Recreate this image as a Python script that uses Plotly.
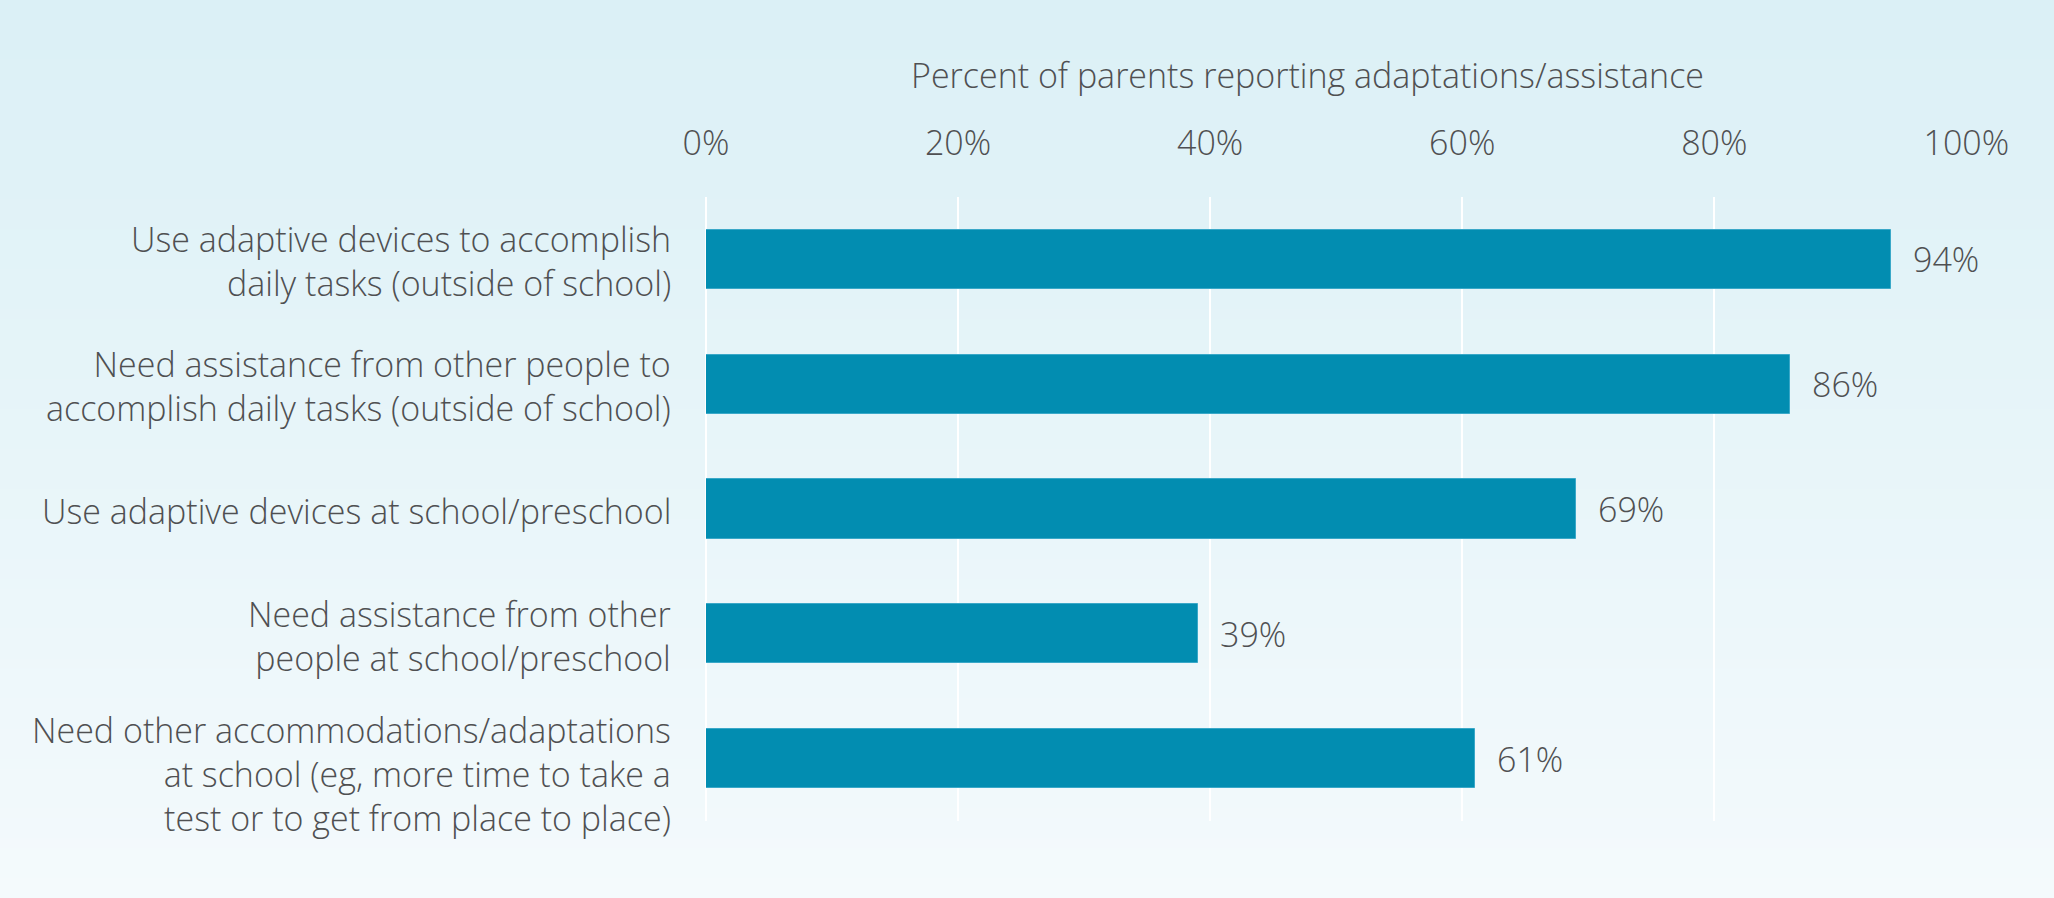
import plotly.graph_objects as go

# Survey items (top to bottom) and the share of parents reporting each
categories = [
    "Use adaptive devices to accomplish<br>daily tasks (outside of school)",
    "Need assistance from other people to<br>accomplish daily tasks (outside of school)",
    "Use adaptive devices at school/preschool",
    "Need assistance from other<br>people at school/preschool",
    "Need other accommodations/adaptations<br>at school (eg, more time to take a<br>test or to get from place to place)",
]
percent = [94, 86, 69, 39, 61]
x_ticks = [0, 20, 40, 60, 80, 100]
x_tick_labels = ["0%", "20%", "40%", "60%", "80%", "100%"]
axis_title = "Percent of parents reporting adaptations/assistance"

W, H = 2054, 898
ML, MR, MT, MB = 706, 87, 197, 77
PW, PH = W - ML - MR, H - MT - MB

FONT = "Open Sans, Liberation Sans, Arial, sans-serif"
FS = 34
TEXT = "#4f5052"
BAR = "#028db1"

fig = go.Figure()
fig.add_trace(go.Bar(
    x=percent,
    y=categories,
    orientation="h",
    width=0.474,
    marker=dict(color=BAR, line=dict(color="#3aa8c8", width=1)),
    hoverinfo="skip",
))

annotations = []
for cat, v in zip(categories, percent):
    # value label just beyond the bar end
    annotations.append(dict(
        x=v, y=cat, xref="x", yref="y", text=f"{v}%",
        showarrow=False, xanchor="left", yanchor="middle", xshift=20,
        font=dict(family=FONT, size=FS, color=TEXT, weight=300),
    ))
    # right-aligned category label left of the axis; the three-line
    # label sits a little lower than its bar's centre
    n_lines = cat.count("<br>") + 1
    annotations.append(dict(
        x=0, y=cat, xref="paper", yref="y", text=cat, align="right",
        showarrow=False, xanchor="right", yanchor="middle", xshift=-33,
        yshift=-15 if n_lines > 2 else -2,
        font=dict(family=FONT, size=FS, color=TEXT, weight=300),
    ))

annotations.append(dict(
    x=(1307 - ML) / PW, y=1 + (MT - 75) / PH, xref="paper", yref="paper",
    text=axis_title, showarrow=False, xanchor="center", yanchor="middle",
    font=dict(family=FONT, size=FS, color=TEXT, weight=300),
))

# soft vertical background gradient built from thin strips
shapes = []
top = (219, 240, 246)
bot = (244, 250, 252)
n = 90
for i in range(n):
    t = i / (n - 1)
    c = tuple(round(top[k] + (bot[k] - top[k]) * t) for k in range(3))
    y_top_px = H * i / n
    y_bot_px = H * (i + 1) / n + 1
    shapes.append(dict(
        type="rect", xref="paper", yref="paper", layer="below",
        x0=-ML / PW - 0.01, x1=(W - ML) / PW + 0.01,
        y0=(H - MB - y_bot_px) / PH, y1=(H - MB - y_top_px) / PH,
        fillcolor="rgb(%d,%d,%d)" % c, line=dict(width=0),
    ))

fig.update_layout(
    width=W, height=H,
    margin=dict(l=ML, r=MR, t=MT, b=MB, pad=0),
    paper_bgcolor="rgb(232,245,248)",
    plot_bgcolor="rgba(0,0,0,0)",
    showlegend=False,
    bargap=0,
    font=dict(family=FONT, color=TEXT, size=FS, weight=300),
    xaxis=dict(
        side="top", range=[0, 100.05], tickvals=x_ticks, ticktext=x_tick_labels,
        showgrid=True, gridcolor="white", gridwidth=2,
        zeroline=True, zerolinecolor="white", zerolinewidth=2,
        showline=False, ticks="", ticklabelstandoff=34,
        tickfont=dict(family=FONT, size=FS, color=TEXT, weight=300),
        fixedrange=True,
    ),
    yaxis=dict(
        autorange="reversed", showgrid=False, zeroline=False, showline=False,
        ticks="", showticklabels=False,
        fixedrange=True,
    ),
    annotations=annotations,
    shapes=shapes,
)

fig.write_html("out.html")
